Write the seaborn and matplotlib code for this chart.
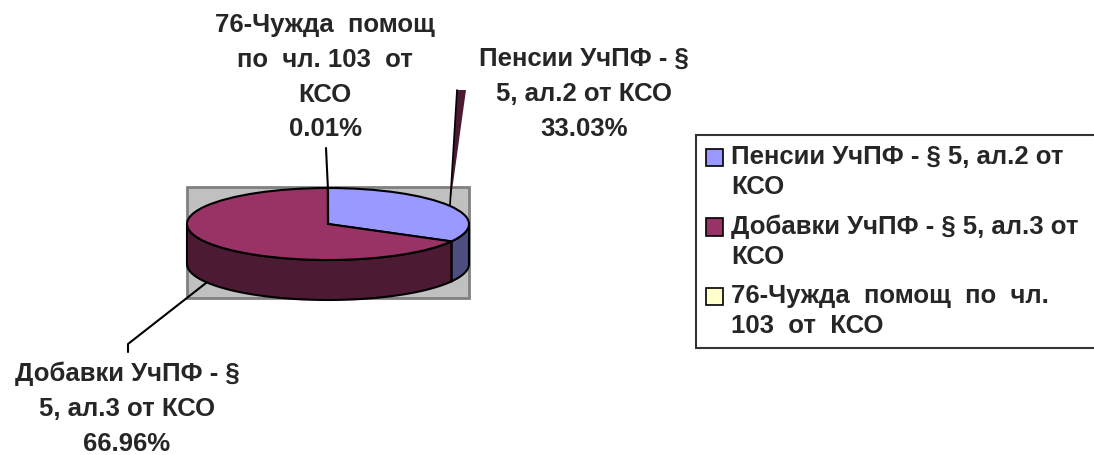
import numpy as np
import matplotlib
matplotlib.use("Agg")
import matplotlib.pyplot as plt
from matplotlib.patches import Rectangle, Patch
from matplotlib.legend_handler import HandlerPatch
import seaborn as sns

# ---- data ----
categories = ["Пенсии УчПФ - § 5, ал.2 от КСО",
              "Добавки УчПФ - § 5, ал.3 от КСО",
              "76-Чужда  помощ  по  чл. 103  от  КСО"]
legend_labels = ["Пенсии УчПФ - § 5, ал.2 от\nКСО",
                 "Добавки УчПФ - § 5, ал.3 от\nКСО",
                 "76-Чужда  помощ  по  чл.\n103  от  КСО"]
data_labels = ["Пенсии УчПФ - §\n5, ал.2 от КСО\n33.03%",
               "Добавки УчПФ - §\n5, ал.3 от КСО\n66.96%",
               "76-Чужда  помощ\nпо  чл. 103  от\nКСО\n0.01%"]
values = [33.03, 66.96, 0.01]
top_colors = ["#9999FF", "#993366", "#FFFFCC"]
side_colors = ["#4D4D80", "#4D1A33", "#80806A"]

sns.set_style("white")
plt.rcParams['font.family'] = ['Liberation Sans', 'DejaVu Sans']

FS = 18.5
W, H = 1094, 455
fig = plt.figure(figsize=(W / 100, H / 100), dpi=100)

# background axes in pixel coordinates
bg = fig.add_axes([0, 0, 1, 1])
bg.set_xlim(0, W)
bg.set_ylim(H, 0)
bg.axis("off")
bg.add_patch(Rectangle((187, 187), 282, 111, facecolor="#C0C0C0",
                       edgecolor="#808080", linewidth=2, zorder=0))

# pie geometry (pixels)
cx, cy, a, b, depth = 328, 224, 141, 36, 40
D = depth / b
left = (cx - a) / W
bottom = 1 - (cy + b + depth) / H
pax = fig.add_axes([left, bottom, 2 * a / W, (2 * b + depth) / H])
pax.patch.set_alpha(0)

wedges, _ = pax.pie(values, colors=top_colors, startangle=90, counterclock=False,
                    wedgeprops=dict(edgecolor="black", linewidth=1.5))
pax.set_aspect("auto")
pax.set_xlim(-1, 1)
pax.set_ylim(-1 - D, 1)
pax.axis("off")

# 3D sides: visible lower half of each slice
total = sum(values)
start = 90.0
for v, sc in zip(values, side_colors):
    end = start - 360.0 * v / total
    lo, hi = end, start
    for shift in (0, -360, 360):
        l2, h2 = max(lo + shift, -180), min(hi + shift, 0)
        if h2 > l2:
            t = np.radians(np.linspace(l2, h2, 100))
            xs = np.concatenate([np.cos(t), np.cos(t[::-1])])
            ys = np.concatenate([np.sin(t), np.sin(t[::-1]) - D])
            pax.fill(xs, ys, facecolor=sc, edgecolor="black", linewidth=1.5,
                     zorder=0.5, clip_on=False)
    start = end
for w in wedges:
    w.set_clip_on(False)
    w.set_zorder(2)

# data labels
tkw = dict(fontsize=FS, fontweight="bold", ha="center", va="top", linespacing=1.57)
bg.text(584, 47, data_labels[0], **tkw)
bg.text(127, 362, data_labels[1], **tkw)
bg.text(325, 13, data_labels[2], **tkw)

# leader lines
bg.fill([457, 466, 450], [90, 90, 205], facecolor="#4D1A33", edgecolor="none", zorder=3)
bg.plot([457, 450], [90, 205], color="black", lw=1.2, zorder=3)
bg.plot([326, 328], [148, 190], color="black", lw=1.5, zorder=3)
bg.plot([128, 128, 206], [352, 344, 283], color="black", lw=1.5, zorder=3)


# legend: square aligned with first text line
def top_square(legend, orig_handle, xdescent, ydescent, width, height, fontsize):
    return Rectangle((-xdescent, -ydescent + 0.58 * fontsize), width, height)


handles = [Patch(facecolor=c, edgecolor="black", linewidth=1.2) for c in top_colors]
leg = fig.legend(handles, legend_labels, loc="upper left",
                 bbox_to_anchor=(696 / W, 1 - 135 / H, (1110 - 696) / W, 0),
                 mode="expand", borderaxespad=0,
                 prop=dict(family="Liberation Sans", weight="bold", size=FS),
                 frameon=True, fancybox=False, shadow=False,
                 handlelength=0.66, handleheight=0.66, handletextpad=0.3,
                 labelspacing=0.6, borderpad=0.4,
                 handler_map={Patch: HandlerPatch(patch_func=top_square)})
leg.get_frame().set_edgecolor("black")
leg.get_frame().set_linewidth(1.5)
for t in leg.get_texts():
    t.set_linespacing(1.3)

fig.savefig("out.png", dpi=100)
